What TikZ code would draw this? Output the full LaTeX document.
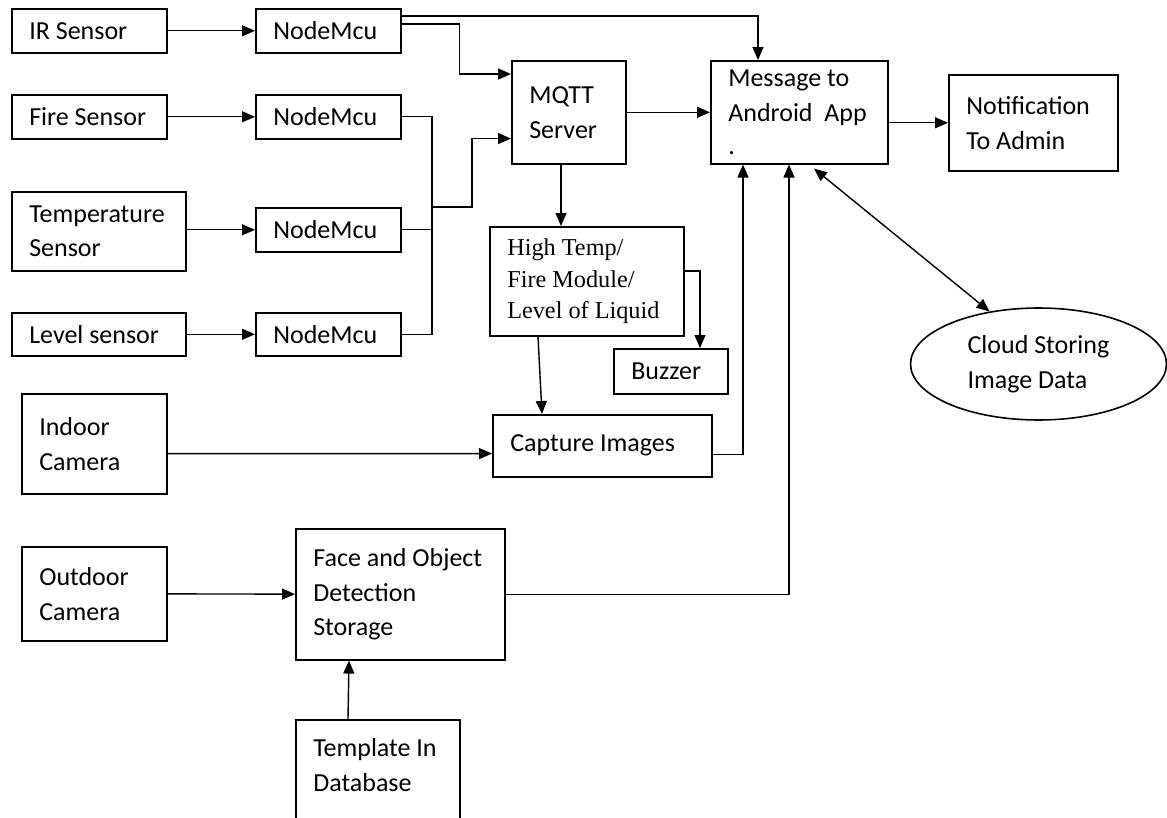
\documentclass[tikz,border=0pt]{standalone}
\usepackage{fontspec}
\setmainfont{Carlito}
\newfontfamily\serifnm{Liberation Serif}
\usetikzlibrary{arrows.meta,calc,shapes.geometric}
\begin{document}
\begin{tikzpicture}[x=0.02cm,y=-0.02cm,
  blk/.style 2 args={draw,line width=0.9pt,anchor=north west,align=flush left,inner xsep=0.35cm,inner ysep=0pt,
    text width=#1,minimum height=#2,font=\fontsize{14.8}{19.8}\selectfont},
  arr/.style={line width=0.8pt,-{Triangle[length=0.26cm,width=0.22cm]}},
  arrs/.style={line width=0.8pt,{Triangle[length=0.26cm,width=0.22cm]}-{Triangle[length=0.26cm,width=0.22cm]}},
  wire/.style={line width=0.8pt}]
\useasboundingbox (0,0) rectangle (1167,818);
\clip (0,0) rectangle (1167,818);
\node (ir) at (11,8) [blk={2.40cm}{0.88cm}] {IR Sensor};
\node (fire) at (11,94) [blk={2.40cm}{0.88cm}] {Fire Sensor};
\node (temp) at (11,191) [blk={2.78cm}{1.58cm}] {Temperature\\Sensor};
\node (level) at (11,312) [blk={2.78cm}{0.86cm}] {Level sensor};
\node (nm1) at (255,8) [blk={2.20cm}{0.88cm}] {NodeMcu};
\node (nm2) at (255,94) [blk={2.20cm}{0.88cm}] {NodeMcu};
\node (nm3) at (255,207) [blk={2.20cm}{0.88cm}] {NodeMcu};
\node (nm4) at (255,312) [blk={2.20cm}{0.86cm}] {NodeMcu};
\node (mqtt) at (511,60) [blk={1.58cm}{2.06cm}] {MQTT\\Server};
\node (msg) at (710,60) [blk={2.84cm}{2.06cm}] {Message to\\Android\ \ App\\[-1pt].};
\node (notif) at (948,74) [blk={2.68cm}{1.92cm}] {Notification\\To Admin};
\node (hot) at (489,226) [blk={3.18cm}{2.18cm},font=\serifnm\fontsize{13.8}{17.9}\selectfont] {High Temp/\\Fire Module/\\Level of Liquid};
\node (buzz) at (613,348) [blk={1.58cm}{0.90cm}] {Buzzer};
\node (cap) at (492,414) [blk={3.68cm}{1.24cm}] {Capture Images};
\node (indoor) at (21,393) [blk={2.20cm}{2.00cm}] {Indoor\\Camera};
\node (outdoor) at (21,546) [blk={2.20cm}{1.88cm}] {Outdoor\\Camera};
\node (face) at (295,528) [blk={3.48cm}{2.62cm}] {Face and Object\\Detection\\Storage};
\node (tmpl) at (295,719) [blk={2.58cm}{0cm},inner ysep=0.38cm,text depth=2cm] {Template In\\Database};
\node (cloud) at (1038.5,364) [draw,ellipse,line width=0.9pt,inner sep=0pt,minimum width=5.12cm,minimum height=2.24cm,
  align=flush left,font=\fontsize{14.8}{19.8}\selectfont] {Cloud Storing\\Image Data};
\coordinate (bus) at (432,300);

\draw[arr] (ir) -- (nm1);
\draw[arr] (fire) -- (nm2);
\draw[arr] (temp.east |- nm3.west) -- (nm3.west);
\draw[arr] (level) -- (nm4);
\draw[arr] ($(nm1.north east)+(0,8)$) -| ($(msg.north west)+(48,0)$);
\draw[arr] ($(nm1.north east)+(0,16)$) -- ++(58,0) |- ($(mqtt.north west)+(0,14)$);
\draw[wire] (nm2.east) -- (nm2.east -| bus) -- (nm4.east -| bus) -- (nm4.east);
\draw[wire] (nm3.east) -- (nm3.east -| bus);
\draw[arr] (bus |- nm3.north) -- ++(40,0) |- ($(mqtt.south west)+(0,-26)$);
\draw[arr] (mqtt) -- (msg);
\draw[arr] (msg.east |- notif.west) -- (notif.west);
\draw[arr] ($(mqtt.south west)+(50,0)$) -- ($(hot.north west)+(72,0)$);
\draw[arr] ($(hot.north east)+(0,45)$) -| ($(buzz.north west)+(87,0)$);
\draw[arr] ($(hot.south west)+(49,0)$) -- ($(cap.north west)+(50,0)$);
\draw[arr] ($(indoor.south east)+(0,-41)$) -- ($(cap.south west)+(0,-24)$);
\draw[arr] ($(cap.south east)+(0,-23)$) -| ($(msg.south west)+(33,0)$);
\draw[arr] (outdoor) -- (face);
\draw[arr] (face.east) -| ($(msg.south west)+(79,0)$);
\draw[arr] ($(tmpl.north west)+(53,0)$) -- ($(face.south west)+(54,0)$);
\draw[arrs] ($(msg.south west)+(104,4)$) -- (cloud.133);
\end{tikzpicture}
\end{document}
